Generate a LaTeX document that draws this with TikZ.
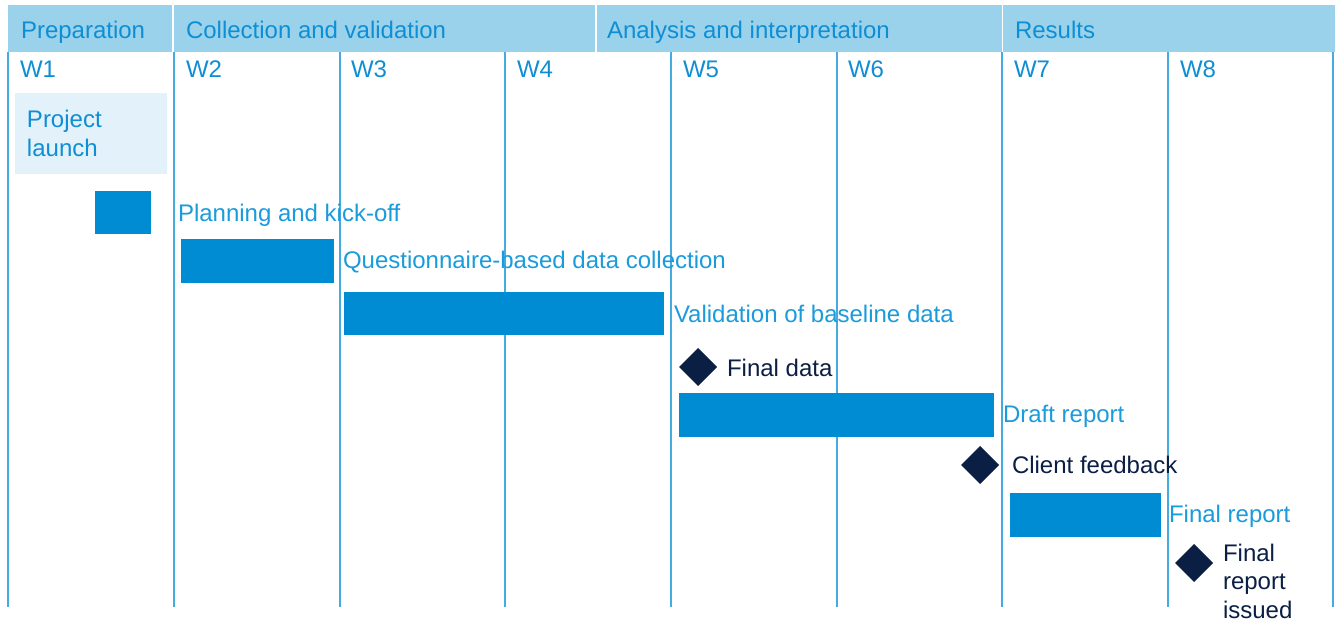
\documentclass[tikz,border=0pt]{standalone}
\usepackage{fontspec}
\setmainfont{Liberation Sans}
\usetikzlibrary{shapes.geometric}
\definecolor{hdrfill}{HTML}{9AD2EB}
\definecolor{txtblue}{HTML}{0E8ED4}
\definecolor{lblblue}{HTML}{1A9BDC}
\definecolor{barblue}{HTML}{008CD3}
\definecolor{gridblue}{HTML}{45AAE0}
\definecolor{navy}{HTML}{0B1F45}
\definecolor{launchfill}{HTML}{E3F1FA}
\begin{document}
\begin{tikzpicture}[x=1pt,y=-1pt,
  every node/.style={font=\fontsize{24}{29}\selectfont, inner sep=0pt, outer sep=0pt},
  phase/.style={fill=hdrfill, draw=none, anchor=north west, minimum height=47pt},
  phasetxt/.style={text=txtblue, anchor=base west},
  week/.style={text=txtblue, anchor=base west},
  gridline/.style={draw=gridblue, line width=1.4pt},
  bar/.style={fill=barblue, draw=none, anchor=north west},
  tasktxt/.style={text=lblblue, anchor=base west},
  milestone/.style={diamond, fill=navy, draw=none, minimum width=38pt, minimum height=38pt},
  mstxt/.style={text=navy, anchor=base west, align=left}
]
\useasboundingbox (0,0) rectangle (1335,621);
\fill[white] (0,0) rectangle (1335,621);

% phase header band, split by thin white gaps
\node[phase, minimum width=164pt] (ph1) at (8,5) {};
\node[phase, minimum width=421pt] (ph2) at (174,5) {};
\node[phase, minimum width=405pt] (ph3) at (597,5) {};
\node[phase, minimum width=332pt] (ph4) at (1003,5) {};
\node[phasetxt] (t1) at (21,38) {Preparation};
\node[phasetxt] (t2) at (186,38) {Collection and validation};
\node[phasetxt] (t3) at (607,38) {Analysis and interpretation};
\node[phasetxt] (t4) at (1015,38) {Results};

% week columns
\foreach \i/\x in {0/8,1/174,2/340,3/505,4/671,5/837,6/1002,7/1168,8/1333}{
  \coordinate (gt\i) at (\x,52);
  \coordinate (gb\i) at (\x,607);
  \draw[gridline] (gt\i) -- (gb\i);
}
\foreach \i/\x in {1/20,2/186,3/351,4/517,5/683,6/848,7/1014,8/1180}{
  \node[week] (w\i) at (\x,77) {W\i};
}

% project launch
\node[fill=launchfill, anchor=north west, minimum width=152pt, minimum height=81pt] (launch) at (15,93) {};
\node[text=txtblue, anchor=north west, align=left, font=\fontsize{24}{29}\selectfont] (launchtxt) at (27,110) {Project\\launch};

% tasks
\node[bar, minimum width=56pt, minimum height=43pt] (b1) at (95,191) {};
\node[tasktxt] (l1) at (178,221) {Planning and kick-off};
\node[bar, minimum width=153pt, minimum height=44pt] (b2) at (181,239) {};
\node[tasktxt] (l2) at (343,268) {Questionnaire-based data collection};
\node[bar, minimum width=320pt, minimum height=43pt] (b3) at (344,292) {};
\node[tasktxt] (l3) at (674,322) {Validation of baseline data};
\node[bar, minimum width=315pt, minimum height=44pt] (b4) at (679,393) {};
\node[tasktxt] (l4) at (1003,422) {Draft report};
\node[bar, minimum width=151pt, minimum height=44pt] (b5) at (1010,493) {};
\node[tasktxt] (l5) at (1169,522) {Final report};

% milestones
\node[milestone] (m1) at (698,367) {};
\node[mstxt] (ml1) at (727,376) {Final data};
\node[milestone] (m2) at (980,465) {};
\node[mstxt] (ml2) at (1012,473) {Client feedback};
\node[milestone] (m3) at (1194,563) {};
\node[text=navy, anchor=north west, align=left, font=\fontsize{24}{28.5}\selectfont] (ml3) at (1223,544) {Final\\report\\issued};
\end{tikzpicture}
\end{document}
